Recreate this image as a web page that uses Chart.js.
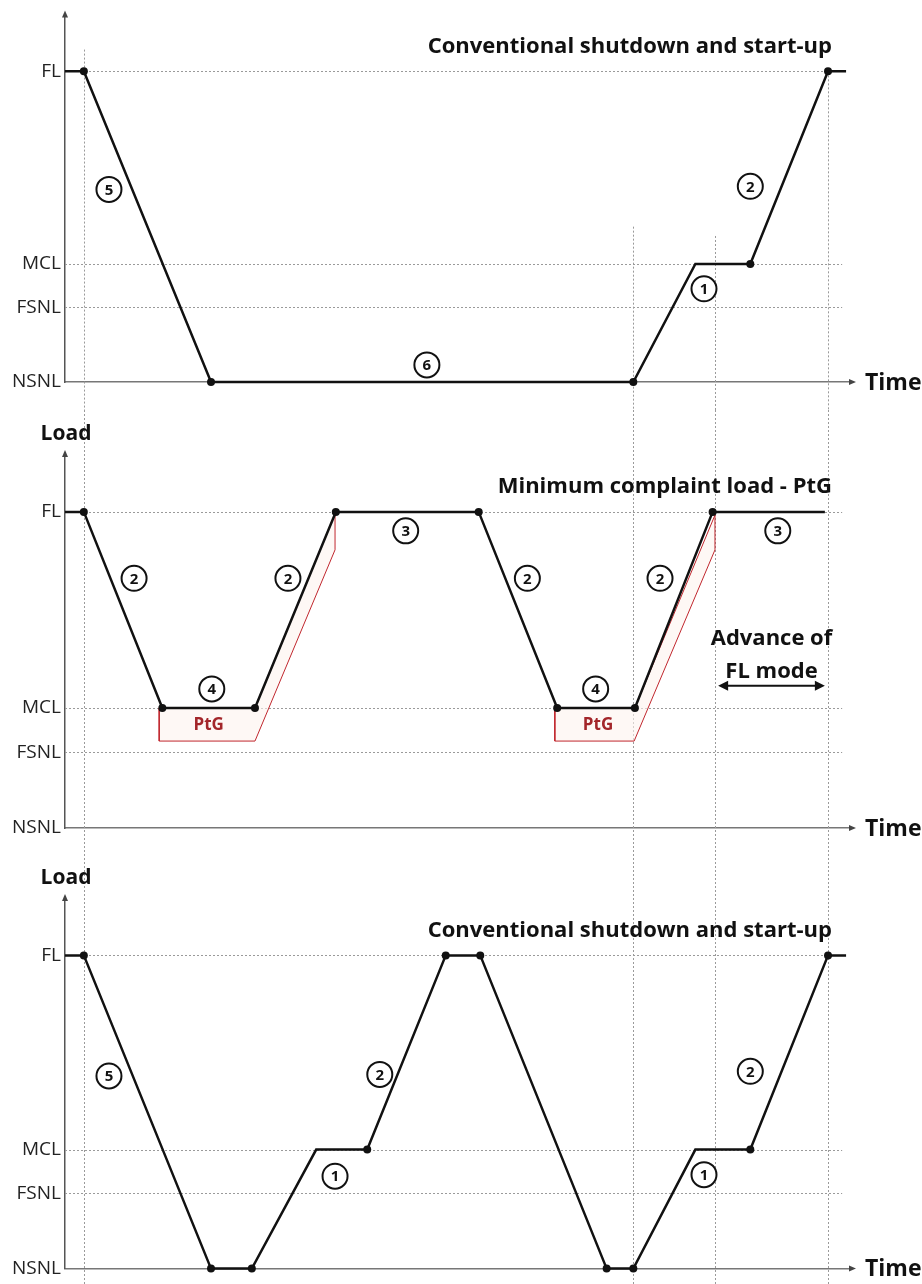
<!DOCTYPE html>
<html>
<head>
<meta charset="utf-8">
<script src="https://cdn.jsdelivr.net/npm/chart.js@4.4.1/dist/chart.umd.min.js"></script>
<style>
  html, body { margin: 0; padding: 0; background: #fff; }
  #wrap { position: relative; width: 922px; height: 1284px; }
  canvas { position: absolute; left: 0; }
</style>
</head>
<body>
<div id="wrap">
  <canvas id="panel1" width="922" height="410" style="top:0px"></canvas>
  <canvas id="panel2" width="922" height="440" style="top:410px"></canvas>
  <canvas id="panel3" width="922" height="434" style="top:850px"></canvas>
</div>
<script>
// load levels (% of full load)
const levelNames = ['NSNL', 'FSNL', 'MCL', 'FL'];
const levelValues = [0, 24, 38, 100];

// time marks shared by the three panels
const guideTimes = [2.4, 72.4, 82.8, 97.2];

// panel 1 - conventional shutdown and start-up
const p1Time = [0, 2.4, 18.6, 72.4, 80.3, 87.3, 97.2, 99.5];
const p1Load = [100, 100, 0, 0, 38, 38, 100, 100];
const p1Dots = [0, 1, 1, 1, 0, 1, 1, 0];
const p1Steps = [[5.6, 62, '5'], [46.1, 5.5, '6'], [81.4, 30, '1'], [87.3, 63, '2']];

// panel 2 - minimum compliant load with PtG
const p2Time = [0, 2.4, 12.4, 24.2, 34.5, 52.7, 62.7, 72.6, 82.5, 96.8];
const p2Load = [100, 100, 38, 38, 100, 100, 38, 38, 100, 100];
const p2Dots = [0, 1, 1, 1, 1, 1, 1, 1, 1, 0];
const p2Steps = [[8.8, 79, '2'], [28.4, 79, '2'], [18.7, 44, '4'], [43.4, 94, '3'],
                 [58.9, 79, '2'], [75.8, 79, '2'], [67.6, 44, '4'], [90.8, 94, '3']];
const ptgTimeA = [12.0, 12.0, 24.2, 34.4, 34.4, 24.2, 12.0];
const ptgLoadA = [38, 27.5, 27.5, 88, 99.5, 38, 38];
const ptgTimeB = [62.4, 62.4, 72.5, 82.8, 82.8, 72.6, 62.4];
const ptgLoadB = [38, 27.5, 27.5, 88, 99, 38, 38];

// panel 3 - conventional shutdown and start-up, twice
const p3Time = [0, 2.4, 18.6, 23.8, 32.0, 38.5, 48.5, 52.9, 69.0, 72.4, 80.3, 87.3, 97.2, 99.5];
const p3Load = [100, 100, 0, 0, 38, 38, 100, 100, 0, 0, 38, 38, 100, 100];
const p3Dots = [0, 1, 1, 1, 0, 1, 1, 1, 1, 1, 0, 1, 1, 0];
const p3Steps = [[5.6, 61.5, '5'], [40.1, 62, '2'], [34.4, 29.5, '1'], [87.3, 63, '2'], [81.4, 30, '1']];

const FONT = "'Open Sans', 'DejaVu Sans', sans-serif";
Chart.defaults.font.family = FONT;

function toPoints(times, loads) {
    return times.map((t, i) => ({ x: t, y: loads[i] }));
}

function triangle(ctx, pts) {
    ctx.beginPath();
    ctx.moveTo(pts[0], pts[1]);
    ctx.lineTo(pts[2], pts[3]);
    ctx.lineTo(pts[4], pts[5]);
    ctx.closePath();
    ctx.fill();
}

// draws guides, arrows and labels of one panel
function decorPlugin(cfg) {
    return {
        id: 'decor',
        beforeDatasetsDraw(chart) {
            const { ctx, chartArea, scales: { x, y } } = chart;
            ctx.save();
            ctx.lineWidth = 1;
            ctx.strokeStyle = '#9a9a9a';
            ctx.setLineDash([2, 2]);
            levelValues.slice(1).forEach(v => {
                const py = Math.round(y.getPixelForValue(v)) + 0.5;
                ctx.beginPath();
                ctx.moveTo(chartArea.left, py);
                ctx.lineTo(x.getPixelForValue(99), py);
                ctx.stroke();
            });
            guideTimes.forEach((t, i) => {
                const px = Math.round(x.getPixelForValue(t)) + 0.5;
                const from = cfg.guideFrom ? y.getPixelForValue(cfg.guideFrom[i]) : 0;
                ctx.beginPath();
                ctx.moveTo(px, from);
                ctx.lineTo(px, chart.height);
                ctx.stroke();
            });
            ctx.restore();
        },
        afterDraw(chart) {
            const { ctx, chartArea, scales: { x, y } } = chart;
            ctx.save();

            // axis arrows
            ctx.fillStyle = '#444';
            triangle(ctx, [chartArea.left, chartArea.top - 5, chartArea.left - 3, chartArea.top + 2, chartArea.left + 3, chartArea.top + 2]);
            triangle(ctx, [chartArea.right + 6, chartArea.bottom, chartArea.right - 1, chartArea.bottom - 3, chartArea.right - 1, chartArea.bottom + 3]);

            ctx.fillStyle = '#111';
            ctx.textBaseline = 'middle';
            ctx.font = 'bold 23px ' + FONT;
            ctx.textAlign = 'left';
            ctx.fillText('Time', chartArea.right + 15, chartArea.bottom + 1);
            if (cfg.showLoad) {
                ctx.font = 'bold 21px ' + FONT;
                ctx.textAlign = 'center';
                ctx.fillText('Load', chartArea.left + 1, chartArea.top - 21);
            }

            // panel title
            ctx.font = 'bold 22px ' + FONT;
            ctx.textAlign = 'right';
            ctx.fillText(cfg.title, x.getPixelForValue(97.7), y.getPixelForValue(108));

            // circled step numbers
            cfg.steps.forEach(s => {
                const px = x.getPixelForValue(s[0]);
                const py = y.getPixelForValue(s[1]);
                ctx.beginPath();
                ctx.arc(px, py, 12.5, 0, Math.PI * 2);
                ctx.fillStyle = '#fff';
                ctx.fill();
                ctx.lineWidth = 2;
                ctx.strokeStyle = '#111';
                ctx.stroke();
                ctx.fillStyle = '#111';
                ctx.font = 'bold 15px ' + FONT;
                ctx.textAlign = 'center';
                ctx.fillText(s[2], px, py + 1);
            });

            // PtG labels
            if (cfg.ptgLabels) {
                ctx.fillStyle = '#a3262a';
                ctx.font = 'bold 17px ' + FONT;
                ctx.textAlign = 'center';
                cfg.ptgLabels.forEach(p => ctx.fillText('PtG', x.getPixelForValue(p[0]), y.getPixelForValue(p[1])));
            }

            // advance of FL mode
            if (cfg.advance) {
                const a = cfg.advance;
                ctx.fillStyle = '#111';
                ctx.font = 'bold 22px ' + FONT;
                ctx.textAlign = 'center';
                const cx = x.getPixelForValue((a.from + a.to) / 2);
                ctx.fillText('Advance of', cx, y.getPixelForValue(60));
                ctx.fillText('FL mode', cx, y.getPixelForValue(49.3));
                const x0 = x.getPixelForValue(a.from);
                const x1 = x.getPixelForValue(a.to);
                const ay = y.getPixelForValue(a.load);
                ctx.strokeStyle = '#111';
                ctx.lineWidth = 2;
                ctx.beginPath();
                ctx.moveTo(x0 + 4, ay);
                ctx.lineTo(x1 - 4, ay);
                ctx.stroke();
                triangle(ctx, [x0, ay, x0 + 10, ay - 5, x0 + 10, ay + 5]);
                triangle(ctx, [x1, ay, x1 - 10, ay - 5, x1 - 10, ay + 5]);
            }
            ctx.restore();
        }
    };
}

function loadDataset(times, loads, dots) {
    return {
        data: toPoints(times, loads),
        borderColor: '#111',
        borderWidth: 2.5,
        pointRadius: dots.map(d => (d ? 4 : 0)),
        pointBackgroundColor: '#111',
        pointBorderWidth: 0,
        tension: 0,
        clip: false
    };
}

function ptgDataset(times, loads) {
    return {
        data: toPoints(times, loads),
        borderColor: '#c0262d',
        borderWidth: 1,
        backgroundColor: 'rgba(253, 244, 238, 0.6)',
        fill: 'shape',
        pointRadius: 0,
        tension: 0,
        clip: false
    };
}

function makePanel(id, datasets, padding, cfg) {
    const el = document.getElementById(id);
    if (!el) return;
    try {
        new Chart(el, {
            type: 'line',
            data: { datasets: datasets },
            options: {
                responsive: false,
                animation: false,
                events: [],
                layout: { padding: padding },
                plugins: {
                    legend: { display: false },
                    tooltip: { enabled: false }
                },
                scales: {
                    x: {
                        type: 'linear',
                        min: 0,
                        max: 100,
                        ticks: { display: false },
                        grid: { display: false, drawTicks: false },
                        border: { display: true, color: '#777', width: 1.5 },
                        afterFit: s => { s.height = 0; }
                    },
                    y: {
                        min: 0,
                        max: 118,
                        afterBuildTicks: s => { s.ticks = levelValues.map(v => ({ value: v })); },
                        afterFit: s => { s.width = 65; },
                        ticks: {
                            padding: 4,
                            color: '#222',
                            font: { size: 19 },
                            callback: v => levelNames[levelValues.indexOf(v)]
                        },
                        grid: { display: false, drawTicks: false },
                        border: { display: true, color: '#555', width: 1.5 }
                    }
                }
            },
            plugins: [decorPlugin(cfg)]
        });
    } catch (error) {
        console.error(id, error);
    }
}

document.addEventListener('DOMContentLoaded', function() {
    if (typeof Chart === 'undefined') {
        console.error('Chart.js not loaded');
        return;
    }

    makePanel('panel1', [loadDataset(p1Time, p1Load, p1Dots)],
        { top: 9, bottom: 28, left: 0, right: 72 },
        { title: 'Conventional shutdown and start-up', steps: p1Steps, guideFrom: [107, 50, 47, 100], showLoad: false });

    makePanel('panel2', [loadDataset(p2Time, p2Load, p2Dots), ptgDataset(ptgTimeA, ptgLoadA), ptgDataset(ptgTimeB, ptgLoadB)],
        { top: 45, bottom: 22, left: 0, right: 72 },
        { title: 'Minimum complaint load - PtG', steps: p2Steps, showLoad: true,
          ptgLabels: [[18.3, 32.6], [67.9, 32.6]],
          advance: { from: 83.2, to: 96.8, load: 45 } });

    makePanel('panel3', [loadDataset(p3Time, p3Load, p3Dots)],
        { top: 49, bottom: 11, left: 0, right: 72 },
        { title: 'Conventional shutdown and start-up', steps: p3Steps, showLoad: true });
});
</script>
</body>
</html>
